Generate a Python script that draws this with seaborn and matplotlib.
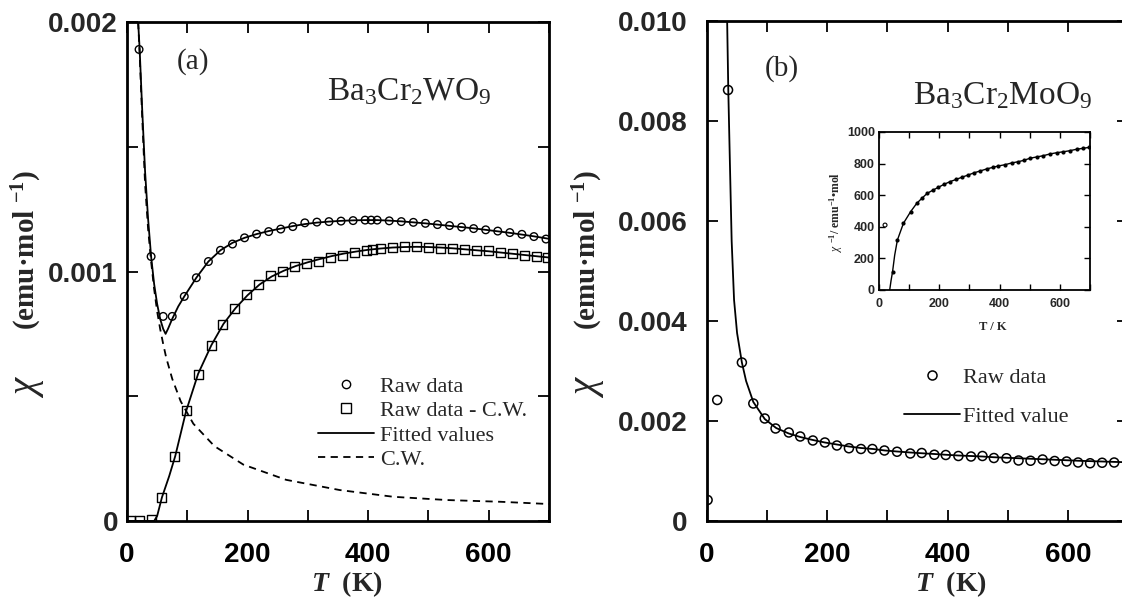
import numpy as np
import matplotlib
matplotlib.use("Agg")
import matplotlib.pyplot as plt
import seaborn as sns
from matplotlib.lines import Line2D
from matplotlib.ticker import MultipleLocator, FixedFormatter, FixedLocator

# ---------------- data (chi in units of 1e-3 emu/mol) ----------------
# Panel (a) Ba3Cr2WO9
T_raw_a = [20, 40, 60, 75, 95, 115, 135, 155, 175, 195, 215, 235, 255, 275, 295, 315,
           335, 355, 375, 395, 405, 415, 435, 455, 475, 495, 515, 535, 555, 575, 595,
           615, 635, 655, 675, 695]
chi_raw_a = [1.89, 1.06, 0.82, 0.82, 0.90, 0.975, 1.04, 1.085, 1.11, 1.135, 1.15, 1.16,
             1.17, 1.18, 1.195, 1.198, 1.20, 1.202, 1.204, 1.206, 1.206, 1.206, 1.203,
             1.20, 1.197, 1.193, 1.188, 1.184, 1.178, 1.172, 1.167, 1.162, 1.156, 1.149,
             1.14, 1.13]

T_sub_a = [5, 20, 40, 57, 78, 98, 118, 140, 158, 178, 198, 218, 238, 258, 278, 298, 318,
           338, 358, 378, 398, 408, 420, 440, 460, 480, 500, 520, 540, 560, 580, 600, 620,
           640, 660, 680, 698]
chi_sub_a = [0.0, 0.0, 0.008, 0.095, 0.258, 0.442, 0.589, 0.705, 0.786, 0.852, 0.906,
             0.946, 0.982, 0.999, 1.019, 1.033, 1.042, 1.057, 1.066, 1.078, 1.085, 1.089,
             1.093, 1.097, 1.10, 1.10, 1.097, 1.093, 1.093, 1.089, 1.086, 1.083, 1.075,
             1.073, 1.066, 1.06, 1.055]

T_fit_tot_a = [18.5, 21, 25, 30, 35, 40, 45, 50, 55, 60, 64, 68, 75, 85, 95, 115, 135, 155,
               175, 195, 215, 235, 255, 275, 295, 315, 335, 355, 375, 395, 415, 435, 455,
               475, 495, 515, 535, 555, 575, 595, 615, 635, 655, 675, 700]
chi_fit_tot_a = [2.00, 1.89, 1.66, 1.40, 1.21, 1.06, 0.95, 0.87, 0.81, 0.77, 0.75, 0.77,
                 0.81, 0.86, 0.90, 0.975, 1.04, 1.085, 1.115, 1.135, 1.15, 1.162, 1.172,
                 1.182, 1.19, 1.196, 1.20, 1.203, 1.205, 1.206, 1.206, 1.204, 1.201, 1.197,
                 1.193, 1.188, 1.183, 1.178, 1.173, 1.167, 1.161, 1.155, 1.148, 1.141, 1.131]

T_fit_sub_a = [5, 40, 45, 50, 58, 70, 80, 98, 118, 140, 160, 180, 200, 220, 240, 260, 280,
               300, 320, 340, 360, 380, 400, 420, 440, 460, 480, 500, 520, 540, 560, 580,
               600, 620, 640, 660, 680, 700]
chi_fit_sub_a = [0, 0, 0, 0.02, 0.095, 0.18, 0.26, 0.44, 0.59, 0.705, 0.79, 0.853, 0.905,
                 0.948, 0.98, 1.003, 1.022, 1.037, 1.05, 1.062, 1.072, 1.08, 1.087, 1.092,
                 1.096, 1.098, 1.099, 1.098, 1.096, 1.093, 1.089, 1.085, 1.081, 1.076,
                 1.071, 1.066, 1.061, 1.056]

T_cw_a = [18.5, 21, 25, 30, 35, 40, 45, 50, 55, 60, 65, 75, 89, 110, 145, 193, 264, 353,
          442, 531, 620, 700]
chi_cw_a = [2.0, 1.87, 1.63, 1.35, 1.17, 1.04, 0.93, 0.84, 0.77, 0.71, 0.655, 0.57, 0.48,
            0.39, 0.30, 0.226, 0.165, 0.124, 0.097, 0.084, 0.077, 0.068]

# Panel (b) Ba3Cr2MoO9
T_raw_b = [1, 17, 35, 58, 77, 96, 114, 136, 155, 176, 196, 216, 236, 256, 275, 295, 316,
           338, 357, 378, 397, 418, 439, 458, 477, 498, 518, 538, 558, 578, 598, 617, 637,
           657, 677]
chi_raw_b = [0.42, 2.42, 8.62, 3.17, 2.35, 2.05, 1.85, 1.77, 1.69, 1.61, 1.57, 1.51, 1.455,
             1.44, 1.44, 1.41, 1.385, 1.35, 1.36, 1.325, 1.32, 1.30, 1.29, 1.30, 1.26,
             1.255, 1.21, 1.205, 1.23, 1.20, 1.19, 1.17, 1.155, 1.165, 1.17]

T_fit_b = [33.5, 35.4, 38, 41, 45, 50, 58, 65, 77, 96, 115, 136, 155, 176, 196, 216, 236,
           256, 276, 296, 316, 338, 357, 378, 397, 418, 439, 458, 477, 498, 518, 538, 558,
           578, 598, 617, 637, 657, 677, 700]
chi_fit_b = [10.0, 8.62, 7.2, 5.6, 4.42, 3.76, 3.17, 2.80, 2.38, 2.04, 1.86, 1.75, 1.68,
             1.62, 1.57, 1.53, 1.49, 1.46, 1.44, 1.41, 1.39, 1.37, 1.355, 1.34, 1.325, 1.31,
             1.30, 1.29, 1.275, 1.265, 1.255, 1.245, 1.235, 1.225, 1.215, 1.205, 1.197,
             1.19, 1.182, 1.175]

# Inset: inverse susceptibility
T_inv = [45, 61, 81, 105, 125, 142, 160, 180, 197, 216, 236, 256, 274, 296, 316, 335, 357,
         377, 396, 418, 440, 462, 481, 501, 523, 545, 567, 590, 612, 634, 656, 678, 698]
inv_chi = [116, 316, 422, 496, 548, 580, 612, 633, 650, 669, 686, 700, 713, 728, 742, 753,
           766, 776, 785, 793, 804, 812, 821, 834, 842, 850, 861, 869, 875, 882, 891, 897,
           903]
T_inv_fit = [35.5, 40, 45, 52, 61, 81, 105, 125, 142, 160, 180, 197, 216, 236, 256, 274,
             296, 316, 335, 357, 377, 396, 418, 440, 462, 481, 501, 523, 545, 567, 590, 612,
             634, 656, 678, 698]
inv_chi_fit = [0, 60, 116, 220, 316, 422, 496, 548, 580, 612, 633, 650, 669, 686, 700, 713,
               728, 742, 753, 766, 776, 785, 793, 804, 812, 821, 834, 842, 850, 861, 869,
               875, 882, 891, 897, 903]
T_inv_out = [20]
inv_chi_out = [411]

labels_a = ["Raw data", "Raw data - C.W.", "Fitted values", "C.W."]
labels_b = ["Raw data", "Fitted value"]

SCALE = 1e-3

# ---------------- style ----------------
sns.set_theme(style="ticks")
plt.rcParams.update({
    "font.family": ["Liberation Sans", "DejaVu Sans"],
    "mathtext.fontset": "custom",
    "mathtext.rm": "Liberation Serif",
    "mathtext.it": "Liberation Serif:italic",
    "mathtext.bf": "Liberation Serif:bold",
    "mathtext.bfit": "Liberation Serif:italic:bold",
    "axes.edgecolor": "black",
    "axes.linewidth": 2.0,
})

W, H = 1122, 601
fig = plt.figure(figsize=(W / 100, H / 100), dpi=100)
fig.patch.set_facecolor("white")


def rect(l, t, r, b):
    return [l / W, 1 - b / H, (r - l) / W, (b - t) / H]


ax_a = fig.add_axes(rect(127, 22, 549, 521))
ax_b = fig.add_axes(rect(707, 21, 1128, 521))
ax_in = fig.add_axes(rect(879, 132, 1090, 290))

K = "black"
DASH = (0, (4, 3))

# ---- panel (a)
sns.lineplot(x=T_cw_a, y=np.array(chi_cw_a) * SCALE, ax=ax_a, color=K, lw=1.3,
             ls=DASH, sort=False, estimator=None)
sns.lineplot(x=T_fit_tot_a, y=np.array(chi_fit_tot_a) * SCALE, ax=ax_a, color=K, lw=1.3,
             sort=False, estimator=None)
sns.lineplot(x=T_fit_sub_a, y=np.array(chi_fit_sub_a) * SCALE, ax=ax_a, color=K, lw=1.3,
             sort=False, estimator=None)
sns.scatterplot(x=T_raw_a, y=np.array(chi_raw_a) * SCALE, ax=ax_a, marker="o", s=30,
                facecolors="none", edgecolor=K, linewidth=1.0, zorder=3)
sns.scatterplot(x=T_sub_a, y=np.array(chi_sub_a) * SCALE, ax=ax_a, marker="s", s=42,
                facecolors="none", edgecolor=K, linewidth=1.0, zorder=3)

# ---- panel (b)
sns.lineplot(x=T_fit_b, y=np.array(chi_fit_b) * SCALE, ax=ax_b, color=K, lw=1.3,
             sort=False, estimator=None)
sns.scatterplot(x=T_raw_b, y=np.array(chi_raw_b) * SCALE, ax=ax_b, marker="o", s=42,
                facecolors="none", edgecolor=K, linewidth=1.1, zorder=3)

# ---- inset
sns.lineplot(x=T_inv_fit, y=inv_chi_fit, ax=ax_in, color=K, lw=1.0, sort=False,
             estimator=None)
sns.scatterplot(x=T_inv, y=inv_chi, ax=ax_in, marker="o", s=9, color=K, linewidth=0,
                zorder=3)
sns.scatterplot(x=T_inv_out, y=inv_chi_out, ax=ax_in, marker="o", s=8, facecolors="none",
                edgecolor=K, linewidth=0.8, zorder=3)

# ---------------- axes formatting ----------------
for ax in (ax_a, ax_b):
    ax.set_xlim(0, 700)
    ax.xaxis.set_major_locator(MultipleLocator(200))
    ax.xaxis.set_minor_locator(MultipleLocator(100))
    ax.tick_params(which="both", direction="in", top=True, right=True, length=8,
                   width=1.3, color=K)
    ax.tick_params(axis="x", which="major", pad=15, labelsize=20, labelcolor=K)
    ax.set_xlabel("")
    ax.set_ylabel("")
    for s in ax.spines.values():
        s.set_linewidth(2.0)
        s.set_color(K)

ax_a.set_ylim(0, 0.002)
ax_a.yaxis.set_major_locator(FixedLocator([0, 0.001, 0.002]))
ax_a.yaxis.set_major_formatter(FixedFormatter(["0", "0.001", "0.002"]))
ax_a.yaxis.set_minor_locator(MultipleLocator(0.0005))
ax_a.tick_params(axis="y", which="major", pad=6.5, labelsize=20)

ax_b.set_ylim(0, 0.010)
ax_b.yaxis.set_major_locator(FixedLocator([0, 0.002, 0.004, 0.006, 0.008, 0.010]))
ax_b.yaxis.set_major_formatter(FixedFormatter(["0", "0.002", "0.004", "0.006", "0.008",
                                               "0.010"]))
ax_b.tick_params(axis="y", which="major", pad=14, labelsize=20)

for ax in (ax_a, ax_b):
    ax.set_xticks([0, 200, 400, 600])
    ax.set_xticklabels(["0", "200", "400", "600"], fontweight="bold", fontsize=20)
    for lab in ax.get_yticklabels():
        lab.set_fontweight("bold")
        lab.set_fontsize(20)

ax_in.set_xlim(0, 700)
ax_in.set_ylim(0, 1000)
ax_in.set_xticks([0, 200, 400, 600])
ax_in.xaxis.set_minor_locator(MultipleLocator(100))
ax_in.set_yticks([0, 200, 400, 600, 800, 1000])
ax_in.tick_params(which="both", direction="in", top=True, right=True, length=4,
                  width=1.0, color=K)
ax_in.tick_params(axis="x", pad=6, labelsize=9)
ax_in.tick_params(axis="y", pad=3, labelsize=9)
for lab in ax_in.get_xticklabels() + ax_in.get_yticklabels():
    lab.set_fontweight("bold")
for s in ax_in.spines.values():
    s.set_linewidth(1.3)
ax_in.set_xlabel("")
ax_in.set_ylabel("")

# ---------------- texts ----------------
SERIF = "Liberation Serif"


def fx(px):
    return px / W


def fy(py):
    return 1 - py / H


ax_a.text(0.156, 0.92, "(a)", transform=ax_a.transAxes, ha="center", va="center",
          fontsize=21, family=SERIF)
ax_a.text(0.67, 0.86, r"Ba$_3$Cr$_2$WO$_9$", transform=ax_a.transAxes, ha="center",
          va="center", fontsize=24, family=SERIF)
ax_b.text(0.178, 0.905, "(b)", transform=ax_b.transAxes, ha="center", va="center",
          fontsize=21, family=SERIF)
ax_b.text(0.703, 0.85, r"Ba$_3$Cr$_2$MoO$_9$", transform=ax_b.transAxes, ha="center",
          va="center", fontsize=24, family=SERIF)

for xc in (347, 951):
    fig.text(fx(xc), fy(584), r"$\mathbfit{T}$  (K)", ha="center", va="center",
             fontsize=20, family=SERIF, fontweight="bold")

for xc in (27, 588):
    fig.text(fx(xc), fy(386), r"$\chi$", ha="center", va="center", rotation=90,
             fontsize=28, family=SERIF)
    fig.text(fx(xc), fy(250), r"(emu·mol $^{\mathbf{-1}}$)", ha="center", va="center",
             rotation=90, fontsize=21, family=SERIF, fontweight="bold")

fig.text(fx(836), fy(212), r"$\chi$ $^{\mathbf{-1}}$/ emu$^{\mathbf{-1}}$•mol",
         ha="center", va="center", rotation=90, fontsize=8.5, family=SERIF,
         fontweight="bold")
fig.text(fx(993), fy(327), "T / K", ha="center", va="center", fontsize=9,
         family=SERIF, fontweight="bold")

# ---------------- legends ----------------
h_circle = Line2D([], [], marker="o", ls="none", mfc="none", mec=K, mew=1.0, ms=6)
h_square = Line2D([], [], marker="s", ls="none", mfc="none", mec=K, mew=1.0, ms=6.5)
h_line = Line2D([], [], color=K, lw=1.3)
h_dash = Line2D([], [], color=K, lw=1.3, ls=DASH)
ax_a.legend([h_circle, h_square, h_line, h_dash], labels_a, loc="upper left",
            bbox_to_anchor=(0.4526, 0.29), frameon=False, borderpad=0,
            borderaxespad=0, handlelength=2.5, handletextpad=0.3, labelspacing=0.17,
            prop={"family": SERIF, "size": 16})

h_circle_b = Line2D([], [], marker="o", ls="none", mfc="none", mec=K, mew=1.1, ms=6.5)
ax_b.legend([h_circle_b, h_line], labels_b, loc="upper left",
            bbox_to_anchor=(0.468, 0.308), frameon=False, borderpad=0,
            borderaxespad=0, handlelength=2.5, handletextpad=0.15, labelspacing=0.85,
            prop={"family": SERIF, "size": 16})

fig.savefig("out.png", dpi=100, facecolor="white")
